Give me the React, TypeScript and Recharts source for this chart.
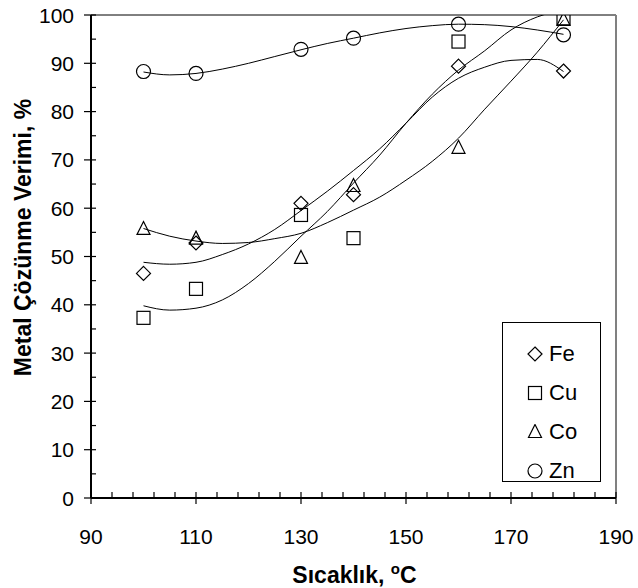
import React from 'react';
import {
  ComposedChart,
  Line,
  Scatter,
  XAxis,
  YAxis,
  ReferenceLine,
  Legend,
  Label,
} from 'recharts';

// measured points
const temps = [100, 110, 130, 140, 160, 180];
const feValues = [46.5, 52.8, 61, 62.8, 89.4, 88.4];
const cuValues = [37.3, 43.3, 58.6, 53.8, 94.5, 99.3];
const coValues = [55.7, 53.7, 49.7, 64.6, 72.5, 99];
const znValues = [88.3, 87.9, 92.9, 95.2, 98.1, 95.9];

// trend curves
const fitTemps = [100, 105, 110, 115, 120, 125, 130, 135, 140, 145, 150, 155, 160, 165, 170, 175, 180];
const feFit = [48.8, 48.4, 48.8, 50.4, 52.6, 55.6, 59.5, 63.5, 67.8, 72.3, 77.6, 83.0, 86.9, 89.2, 90.6, 90.8, 88.3];
const cuFit = [39.8, 38.9, 39.3, 41.0, 44.4, 49.0, 54.2, 59.3, 65.2, 71.0, 77.6, 83.6, 88.6, 92.6, 96.9, 99.6, 101];
const coFit = [55.8, 54.2, 53.2, 52.7, 52.9, 53.7, 54.8, 57.0, 59.6, 62.3, 65.8, 69.7, 74.5, 80.5, 86.3, 92.3, 99.0];
const znFit = [88.2, 87.6, 87.9, 88.8, 90.0, 91.4, 92.8, 94.1, 95.2, 96.3, 97.2, 97.8, 98.1, 98.0, 97.6, 96.9, 96.0];

const xTicks = [90, 94, 98, 102, 106, 110, 114, 118, 122, 126, 130, 134, 138, 142, 146, 150, 154, 158, 162, 166, 170, 174, 178, 182, 186, 190];
const xMajor = [90, 110, 130, 150, 170, 190];
const yTicks = [0, 5, 10, 15, 20, 25, 30, 35, 40, 45, 50, 55, 60, 65, 70, 75, 80, 85, 90, 95, 100];
const yMajor = [0, 10, 20, 30, 40, 50, 60, 70, 80, 90, 100];

const FONT = '"Liberation Sans", Arial, sans-serif';

const toPoints = (xs: number[], ys: number[]) => xs.map((x, i) => ({ x, y: ys[i] }));

type MarkerKind = 'diamond' | 'square' | 'triangle' | 'circle';

const markerPath = (kind: MarkerKind, cx: number, cy: number) => {
  switch (kind) {
    case 'diamond':
      return <path d={`M${cx},${cy - 7}L${cx + 7},${cy}L${cx},${cy + 7}L${cx - 7},${cy}Z`} fill="none" stroke="#000" strokeWidth={1.2} />;
    case 'square':
      return <rect x={cx - 6.5} y={cy - 6.5} width={13} height={13} fill="none" stroke="#000" strokeWidth={1.2} />;
    case 'triangle':
      return <path d={`M${cx},${cy - 7.5}L${cx + 6.5},${cy + 5.5}L${cx - 6.5},${cy + 5.5}Z`} fill="none" stroke="#000" strokeWidth={1.2} />;
    default:
      return <circle cx={cx} cy={cy} r={7} fill="none" stroke="#000" strokeWidth={1.2} />;
  }
};

const series: { name: string; kind: MarkerKind; values: number[]; fit: number[] }[] = [
  { name: 'Fe', kind: 'diamond', values: feValues, fit: feFit },
  { name: 'Cu', kind: 'square', values: cuValues, fit: cuFit },
  { name: 'Co', kind: 'triangle', values: coValues, fit: coFit },
  { name: 'Zn', kind: 'circle', values: znValues, fit: znFit },
];

const XTick = (props: any) => {
  const { x, y, payload } = props;
  const major = xMajor.includes(payload.value);
  return (
    <g>
      <line x1={x} x2={x} y1={y - 6} y2={major ? y + 6 : y} stroke="#000" strokeWidth={1.2} />
      {major && (
        <text x={x} y={y + 46} textAnchor="middle" fontSize={21} fontFamily={FONT} fill="#000">
          {payload.value}
        </text>
      )}
    </g>
  );
};

const YTick = (props: any) => {
  const { x, y, payload } = props;
  const major = yMajor.includes(payload.value);
  return (
    <g>
      <line x1={major ? x - 7 : x} x2={x + 5} y1={y} y2={y} stroke="#000" strokeWidth={1.2} />
      {major && (
        <text x={x - 17} y={y} dy="0.36em" textAnchor="end" fontSize={21} fontFamily={FONT} fill="#000">
          {payload.value}
        </text>
      )}
    </g>
  );
};

const renderLegend = () => (
  <div
    style={{
      width: 99,
      height: 160,
      border: '1px solid #000',
      boxSizing: 'border-box',
      background: '#fff',
      paddingTop: 11,
      fontFamily: FONT,
      fontSize: 22,
      color: '#000',
    }}
  >
    {series.map(s => (
      <div key={s.name} style={{ display: 'flex', alignItems: 'center', height: 39, lineHeight: '24px' }}>
        <svg width={16} height={16} style={{ marginLeft: 24, marginRight: 6 }}>
          {markerPath(s.kind, 8, 8)}
        </svg>
        <span>{s.name}</span>
      </div>
    ))}
  </div>
);

const App: React.FC = () => {
  return (
    <div style={{ position: 'absolute', left: 0, top: 0, width: 638, height: 588, fontFamily: FONT }}>
      <ComposedChart width={638} height={588} margin={{ top: 15, right: 22, bottom: 0, left: 0 }}>
        <XAxis
          type="number"
          dataKey="x"
          domain={[90, 190]}
          ticks={xTicks}
          interval={0}
          height={90}
          tick={<XTick />}
          tickLine={false}
          tickSize={0}
          tickMargin={0}
          axisLine={{ stroke: '#000', strokeWidth: 2 }}
        >
          <Label
            content={({ viewBox }: any) => (
              <text
                x={viewBox.x + viewBox.width / 2 + 1}
                y={viewBox.y + 85}
                textAnchor="middle"
                fontSize={23}
                fontWeight="bold"
                fontFamily={FONT}
                fill="#000"
              >
                Sıcaklık,{' '}
                <tspan dy={-9} fontSize={15}>o</tspan>
                <tspan dy={9}>C</tspan>
              </text>
            )}
          />
        </XAxis>
        <YAxis
          type="number"
          dataKey="y"
          domain={[0, 100]}
          allowDataOverflow
          ticks={yTicks}
          interval={0}
          width={91}
          tick={<YTick />}
          tickLine={false}
          tickSize={0}
          tickMargin={0}
          axisLine={{ stroke: '#000', strokeWidth: 2 }}
        >
          <Label
            content={({ viewBox }: any) => {
              const cx = 23;
              const cy = viewBox.y + viewBox.height / 2 - 19;
              return (
                <text
                  x={cx}
                  y={cy}
                  transform={`rotate(-90 ${cx} ${cy})`}
                  textAnchor="middle"
                  dominantBaseline="central"
                  fontSize={23}
                  fontWeight="bold"
                  fontFamily={FONT}
                  fill="#000"
                >
                  Metal Çözünme Verimi, %
                </text>
              );
            }}
          />
        </YAxis>
        <ReferenceLine y={100} stroke="#000" strokeWidth={1} />
        <ReferenceLine x={190} stroke="#808080" strokeWidth={2} />
        {series.map(s => (
          <Line
            key={`fit-${s.name}`}
            data={toPoints(fitTemps, s.fit)}
            dataKey="y"
            type="monotone"
            stroke="#000"
            strokeWidth={1}
            dot={false}
            activeDot={false}
            legendType="none"
            isAnimationActive={false}
          />
        ))}
        {series.map(s => (
          <Scatter
            key={`pts-${s.name}`}
            name={s.name}
            data={toPoints(temps, s.values)}
            dataKey="y"
            shape={(p: any) => markerPath(s.kind, p.cx, p.cy)}
            isAnimationActive={false}
          />
        ))}
        <Legend
          layout="vertical"
          align="center"
          verticalAlign="middle"
          content={renderLegend}
          wrapperStyle={{ left: 502, top: 322, width: 99, height: 160 }}
        />
      </ComposedChart>
    </div>
  );
};

export default App;
